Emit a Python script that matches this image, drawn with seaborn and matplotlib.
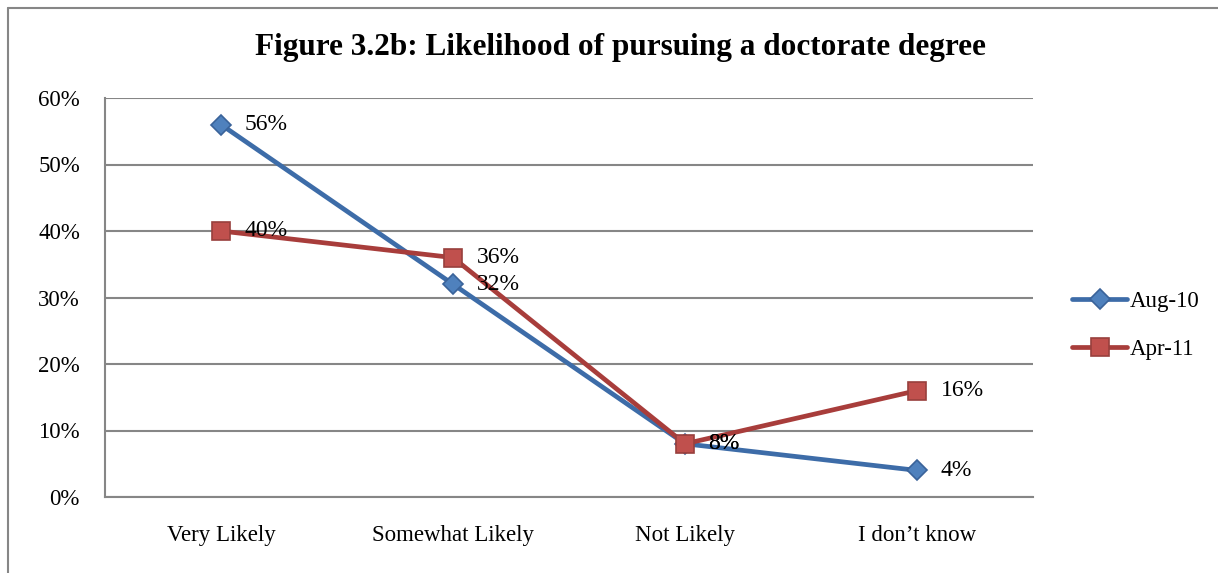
import matplotlib
matplotlib.use("Agg")
import matplotlib.pyplot as plt
import seaborn as sns
from matplotlib.lines import Line2D
from matplotlib.ticker import PercentFormatter

categories = ["Very Likely", "Somewhat Likely", "Not Likely", "I don\u2019t know"]
aug_10 = [56, 32, 8, 4]
apr_11 = [40, 36, 8, 16]
series_names = ["Aug-10", "Apr-11"]

sns.set_style("white")
plt.rcParams['font.family'] = ['Liberation Serif', 'DejaVu Serif']
plt.rcParams['text.color'] = 'black'

fig = plt.figure(figsize=(12.18, 5.73), dpi=100)
ax = fig.add_axes([105 / 1218, 1 - 497 / 573, (1033 - 105) / 1218, (497 - 98) / 573])

styles = {
    "Aug-10": dict(marker="D", color="#3D6CA8", mfc="#4F81BD", mec="#3A639A", ms=10.5),
    "Apr-11": dict(marker="s", color="#A83D3B", mfc="#C0504D", mec="#98403D", ms=13),
}

for name, vals in zip(series_names, [aug_10, apr_11]):
    st = styles[name]
    sns.lineplot(x=categories, y=vals, ax=ax, color=st["color"], linewidth=3.4,
                 marker=st["marker"], markersize=st["ms"], markerfacecolor=st["mfc"],
                 markeredgecolor=st["mec"], markeredgewidth=1.2, label=name, sort=False)
    for i, v in enumerate(vals):
        ax.annotate(f"{v}%", (i, v), xytext=(17, 0), textcoords="offset points",
                    va="center", ha="left", fontsize=17, color="black")

ax.set_xlim(-0.5, 3.5)
ax.set_ylim(0, 60)
ax.set_yticks(range(0, 61, 10))
ax.yaxis.set_major_formatter(PercentFormatter(decimals=0))
ax.grid(axis="y", color="#868686", linewidth=1.5)
ax.set_axisbelow(True)
for s in ["top", "right"]:
    ax.spines[s].set_visible(False)
for s in ["left", "bottom"]:
    ax.spines[s].set_color("#868686")
    ax.spines[s].set_linewidth(1.5)
ax.tick_params(axis="both", length=0, labelsize=16.5, colors="black")
ax.tick_params(axis="x", pad=20)
ax.tick_params(axis="y", pad=18)
ax.set_xlabel("")
ax.set_ylabel("")

ax.legend(loc="center left", bbox_to_anchor=(1.02, 0.43), frameon=False, fontsize=16.5,
          handlelength=2.4, handletextpad=0.1, labelspacing=1.2)

fig.suptitle("Figure 3.2b: Likelihood of pursuing a doctorate degree", x=620 / 1218,
             y=1 - 47 / 573, va="center", fontsize=22.5, fontweight="bold", color="black")

# chart border (left and top edges visible)
fig.add_artist(Line2D([8 / 1218, 8 / 1218], [0, 1 - 8 / 573], transform=fig.transFigure,
                      color="#868686", linewidth=1.5))
fig.add_artist(Line2D([8 / 1218, 1], [1 - 8 / 573, 1 - 8 / 573], transform=fig.transFigure,
                      color="#868686", linewidth=1.5))

fig.savefig("out.png", dpi=100)
